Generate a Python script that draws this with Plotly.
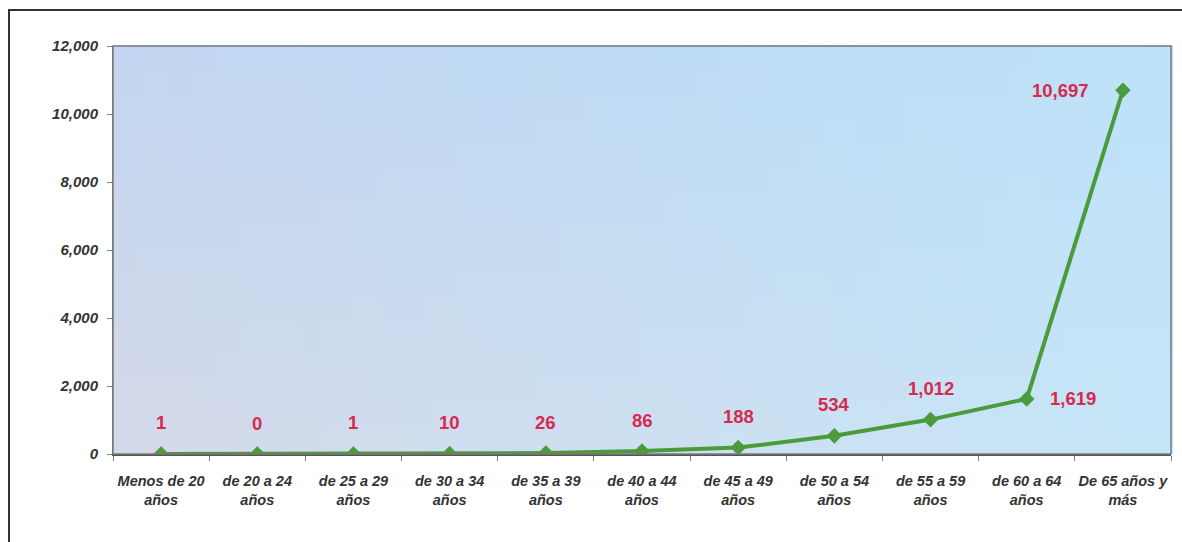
import plotly.graph_objects as go

categories = ["Menos de 20<br>años", "de 20 a 24<br>años", "de 25 a 29<br>años", "de 30 a 34<br>años",
              "de 35 a 39<br>años", "de 40 a 44<br>años", "de 45 a 49<br>años", "de 50 a 54<br>años",
              "de 55 a 59<br>años", "de 60 a 64<br>años", "De 65 años y<br>más"]
values = [1, 0, 1, 10, 26, 86, 188, 534, 1012, 1619, 10697]
label_texts = ["1", "0", "1", "10", "26", "86", "188", "534", "1,012", "1,619", "10,697"]
y_ticks = [0, 2000, 4000, 6000, 8000, 10000, 12000]
y_tick_labels = ["0", "2,000", "4,000", "6,000", "8,000", "10,000", "12,000"]

FONT = "Arial, Liberation Sans, sans-serif"
GREEN = "#4b9a3b"
RED = "#d82a4e"

fig = go.Figure()
fig.add_trace(go.Scatter(
    x=categories, y=values, mode="lines+markers",
    line=dict(color=GREEN, width=4),
    marker=dict(symbol="diamond", size=12, color=GREEN),
    hoverinfo="skip", showlegend=False,
))

# label offsets (pixels)
shifts = {9: (46, 0), 10: (-62, 0)}
for i, (c, v, t) in enumerate(zip(categories, values, label_texts)):
    xs, ys = shifts.get(i, (0, 31))
    fig.add_annotation(x=c, y=v, text=f"<b>{t}</b>", showarrow=False,
                       xshift=xs, yshift=ys,
                       font=dict(family=FONT, size=18.5, color=RED))

# gradient background for plot area
def hex2rgb(h):
    h = h.lstrip("#")
    return [int(h[i:i + 2], 16) for i in (0, 2, 4)]

TL, TR, BL, BR = map(hex2rgb, ["#c2d5f0", "#bce2f9", "#d5d9e9", "#c6e6f8"])
NX, NY = 40, 16
shapes = []
for ix in range(NX):
    for iy in range(NY):
        u = (ix + 0.5) / NX
        w = (iy + 0.5) / NY  # 0 bottom, 1 top
        col = []
        for k in range(3):
            top = TL[k] * (1 - u) + TR[k] * u
            bot = BL[k] * (1 - u) + BR[k] * u
            col.append(round(bot * (1 - w) + top * w))
        shapes.append(dict(type="rect", xref="x domain", yref="y domain",
                           x0=ix / NX, x1=(ix + 1) / NX + 0.002,
                           y0=iy / NY, y1=(iy + 1) / NY + 0.002,
                           line=dict(width=0),
                           fillcolor="rgb(%d,%d,%d)" % tuple(col), layer="below"))
# plot area border
shapes.append(dict(type="rect", xref="x domain", yref="y domain", x0=0, x1=1, y0=0, y1=1,
                   line=dict(color="#7a7a7a", width=1.5), layer="above"))
# outer frame
shapes.append(dict(type="rect", xref="paper", yref="paper",
                   x0=-0.0983, x1=1.02, y0=-0.3, y1=1.088,
                   line=dict(color="#333333", width=2), layer="above"))

fig.update_layout(
    width=1182, height=542,
    margin=dict(l=113, r=11, t=46, b=88),
    paper_bgcolor="white", plot_bgcolor="white",
    shapes=shapes,
    font=dict(family=FONT, color="#333333"),
    xaxis=dict(type="category", tickson="boundaries", ticks="outside", ticklen=5,
               tickcolor="#7a7a7a", showgrid=False, showline=True, linecolor="#555555",
               linewidth=1.5, range=[-0.5, len(categories) - 0.5],
               tickangle=0, automargin=False,
               tickfont=dict(family=FONT, size=14.5, color="#333333", style="italic", weight="bold"),
               ticklabelstandoff=13),
    yaxis=dict(range=[0, 12000], tickvals=y_ticks, ticktext=y_tick_labels,
               ticks="outside", ticklen=5, tickcolor="#7a7a7a", showgrid=False,
               zeroline=False, showline=True, linecolor="#7a7a7a", automargin=False,
               tickfont=dict(family=FONT, size=15, color="#333333", style="italic", weight="bold"),
               ticklabelstandoff=6),
)

fig.write_html("out.html", config={"displayModeBar": False},
               post_script="document.body.style.margin='0';")
